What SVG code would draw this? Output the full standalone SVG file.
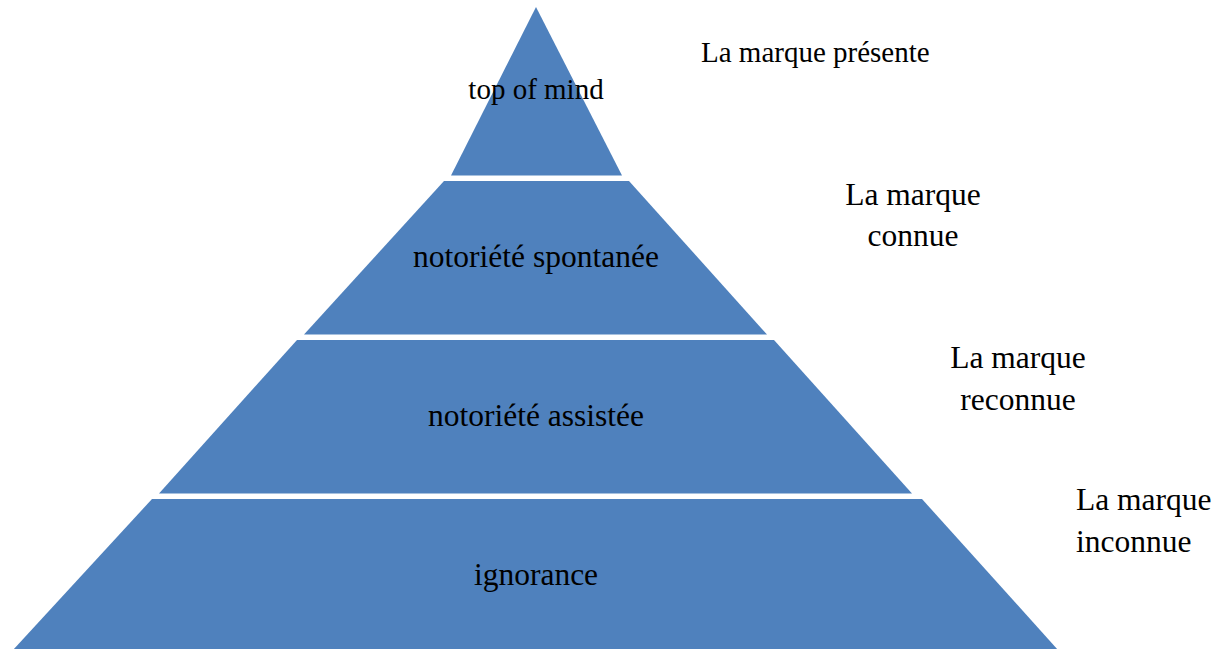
<svg xmlns="http://www.w3.org/2000/svg" width="1227" height="649" viewBox="0 0 1227 649">
<style>
.lvl{fill:#4F81BD;stroke:none}
.t{font-family:"Liberation Serif","Times New Roman",serif;fill:#000;font-size:31.5px}
.c{text-anchor:middle}
</style>
<rect width="1227" height="649" fill="#fff"/>
<g id="top-of-mind">
<polygon class="lvl" points="536,7 622,175.5 451,175.5"/>
<text class="t c" x="536" y="99" style="font-size:29px">top of mind</text>
</g>
<g id="notoriete-spontanee">
<polygon class="lvl" points="444,181 629,181 767,334.5 304,334.5"/>
<text class="t c" x="536" y="267">notoriété spontanée</text>
</g>
<g id="notoriete-assistee">
<polygon class="lvl" points="297,340 774,340 912,493.5 159,493.5"/>
<text class="t c" x="536" y="426">notoriété assistée</text>
</g>
<g id="ignorance">
<polygon class="lvl" points="152,499 922,499 1058,650 13,650"/>
<text class="t c" x="536" y="585">ignorance</text>
</g>
<g id="label-presente">
<text class="t" x="701" y="62" style="font-size:29px">La marque présente</text>
</g>
<g id="label-connue">
<text class="t c" x="913" y="205">La marque</text>
<text class="t c" x="913" y="246">connue</text>
</g>
<g id="label-reconnue">
<text class="t c" x="1018" y="368">La marque</text>
<text class="t c" x="1018" y="410">reconnue</text>
</g>
<g id="label-inconnue">
<text class="t" x="1076" y="510">La marque</text>
<text class="t" x="1076" y="552">inconnue</text>
</g>
<g id="connectors"/>
</svg>
